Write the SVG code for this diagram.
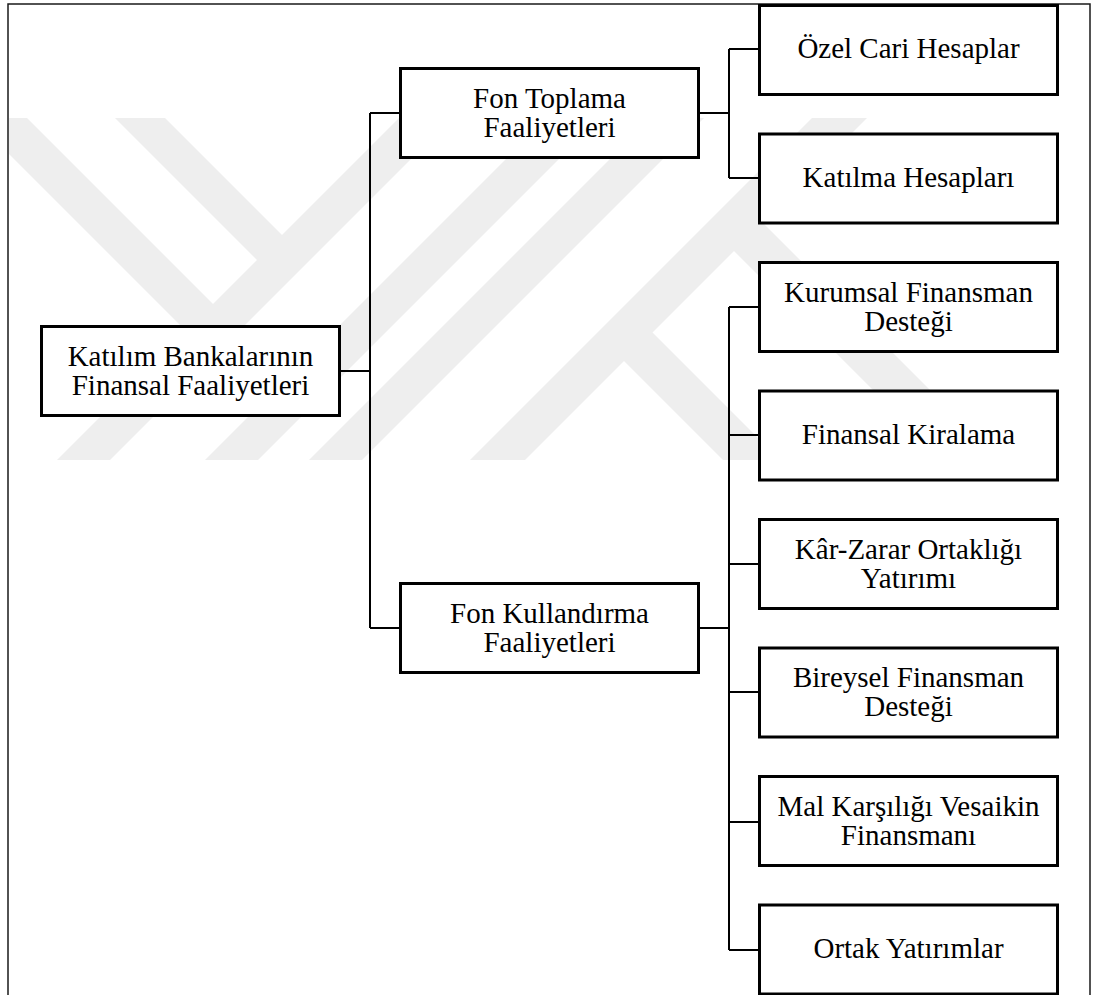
<svg xmlns="http://www.w3.org/2000/svg" width="1096" height="995" viewBox="0 0 1096 995">
  <style>
    .box { fill: #ffffff; stroke: #000000; stroke-width: 3; }
    .lbl { font-family: "Liberation Serif", "DejaVu Serif", serif; font-size: 29px; fill: #000000; text-anchor: middle; }
    .con { fill: none; stroke: #000000; stroke-width: 2; }
    .wm { fill: #eeeeee; stroke: none; }
    .frame { fill: none; stroke: #1a1a1a; stroke-width: 1.5; }
  </style>
  <defs>
    <clipPath id="wmclip">
      <rect x="9" y="118" width="1080" height="342"/>
    </clipPath>
  </defs>
  <rect x="0" y="0" width="1096" height="995" fill="#ffffff"/>
  <g id="watermark" clip-path="url(#wmclip)">
    <polygon class="wm" points="399,118 452,118 110,460 57,460"/>
    <polygon class="wm" points="547,118 600,118 258,460 205,460"/>
    <polygon class="wm" points="651,118 704,118 362,460 309,460"/>
    <polygon class="wm" points="812,118 867,118 525,460 470,460"/>
    <polygon class="wm" points="-27,118 27,118 226,317 199,344"/>
    <polygon class="wm" points="115,118 165,118 295,248 270,273"/>
    <polygon class="wm" points="610,347 638.5,318.5 780,460 723,460"/>
    <polygon class="wm" points="720,237 748.5,208.5 1000,460 943,460"/>
  </g>
  <path id="frame" class="frame" d="M8,995 V4 H1090 V995"/>
  <g id="connectors">
    <path class="con" d="M341,371 H370 M370,113 V628 M370,113 H399 M370,628 H399"/>
    <path class="con" d="M700,113 H729 M729,49 V178 M729,49 H758 M729,178 H758"/>
    <path class="con" d="M700,628 H729 M729,307 V950 M729,307 H758 M729,435 H758 M729,564 H758 M729,692 H758 M729,822 H758 M729,950 H758"/>
  </g>
  <g id="root">
    <rect class="box" x="41.5" y="326.5" width="298" height="89"/>
    <text class="lbl" x="190.5" y="365.5">Katılım Bankalarının</text>
    <text class="lbl" x="190.5" y="395">Finansal Faaliyetleri</text>
  </g>
  <g id="fon-toplama">
    <rect class="box" x="400.5" y="68.5" width="298" height="89"/>
    <text class="lbl" x="549.5" y="107.5">Fon Toplama</text>
    <text class="lbl" x="549.5" y="137">Faaliyetleri</text>
  </g>
  <g id="fon-kullandirma">
    <rect class="box" x="400.5" y="583.5" width="298" height="89"/>
    <text class="lbl" x="549.5" y="622.5">Fon Kullandırma</text>
    <text class="lbl" x="549.5" y="652">Faaliyetleri</text>
  </g>
  <g id="ozel-cari">
    <rect class="box" x="759.5" y="5.5" width="298" height="89"/>
    <text class="lbl" x="908.5" y="58">Özel Cari Hesaplar</text>
  </g>
  <g id="katilma">
    <rect class="box" x="759.5" y="134" width="298" height="89"/>
    <text class="lbl" x="908.5" y="186.5">Katılma Hesapları</text>
  </g>
  <g id="kurumsal">
    <rect class="box" x="759.5" y="262.5" width="298" height="89"/>
    <text class="lbl" x="908.5" y="301.5">Kurumsal Finansman</text>
    <text class="lbl" x="908.5" y="330.5">Desteği</text>
  </g>
  <g id="finansal-kiralama">
    <rect class="box" x="759.5" y="391" width="298" height="89"/>
    <text class="lbl" x="908.5" y="443.5">Finansal Kiralama</text>
  </g>
  <g id="kar-zarar">
    <rect class="box" x="759.5" y="519.5" width="298" height="89"/>
    <text class="lbl" x="908.5" y="558.5">Kâr-Zarar Ortaklığı</text>
    <text class="lbl" x="908.5" y="587.5">Yatırımı</text>
  </g>
  <g id="bireysel">
    <rect class="box" x="759.5" y="648" width="298" height="89"/>
    <text class="lbl" x="908.5" y="687">Bireysel Finansman</text>
    <text class="lbl" x="908.5" y="716">Desteği</text>
  </g>
  <g id="mal-karsiligi">
    <rect class="box" x="759.5" y="776.5" width="298" height="89"/>
    <text class="lbl" x="908.5" y="815.5">Mal Karşılığı Vesaikin</text>
    <text class="lbl" x="908.5" y="844.5">Finansmanı</text>
  </g>
  <g id="ortak">
    <rect class="box" x="759.5" y="905" width="298" height="89"/>
    <text class="lbl" x="908.5" y="958">Ortak Yatırımlar</text>
  </g>
</svg>
